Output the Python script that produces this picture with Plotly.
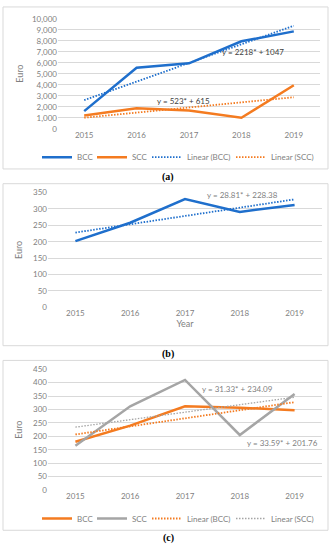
import numpy as np
import plotly.graph_objects as go

W, H = 336, 550
years = ["2015", "2016", "2017", "2018", "2019"]

# Panel (a)
a_bcc = [1600, 5550, 5950, 7950, 8850]
a_scc = [1200, 1850, 1650, 1000, 3950]
a_eq_bcc = "y = 2218* + 1047"
a_eq_scc = "y = 523* + 615"
# Panel (b)
b_vals = [202, 258, 330, 291, 312]
b_eq = "y = 28.81* + 228.38"
# Panel (c)
c_bcc = [180, 240, 312, 307, 297]
c_scc = [165, 312, 410, 205, 358]
c_eq_bcc = "y = 31.33* + 234.09"
c_eq_scc = "y = 33.59* + 201.76"

BLUE = "#1f6fcc"
ORANGE = "#f47b20"
GRAY = "#a5a5a5"
TXT = "#7f7f7f"
GRID = "#d9d9d9"
FONT = "Lato, Open Sans, sans-serif"
DOT = "1.5px,1.5px"


def trend(v):
    x = np.arange(1, len(v) + 1)
    k, b = np.polyfit(x, v, 1)
    return list(k * x + b)


def px(x):
    return x / W


def py(y):
    return 1 - y / H


fig = go.Figure()

# (a)
fig.add_trace(go.Scatter(x=years, y=a_bcc, name="BCC", mode="lines",
                         line=dict(color=BLUE, width=2.5), xaxis="x", yaxis="y", legend="legend"))
fig.add_trace(go.Scatter(x=years, y=a_scc, name="SCC", mode="lines",
                         line=dict(color=ORANGE, width=2.5), xaxis="x", yaxis="y", legend="legend2"))
fig.add_trace(go.Scatter(x=years, y=trend(a_bcc), name="Linear (BCC)", mode="lines",
                         line=dict(color=BLUE, width=1.8, dash=DOT), xaxis="x", yaxis="y", legend="legend3"))
fig.add_trace(go.Scatter(x=years, y=trend(a_scc), name="Linear (SCC)", mode="lines",
                         line=dict(color=ORANGE, width=1.8, dash=DOT), xaxis="x", yaxis="y", legend="legend4"))
# (b)
fig.add_trace(go.Scatter(x=years, y=b_vals, name="b", mode="lines", showlegend=False,
                         line=dict(color=BLUE, width=2.5), xaxis="x2", yaxis="y2"))
fig.add_trace(go.Scatter(x=years, y=trend(b_vals), name="Linear", mode="lines", showlegend=False,
                         line=dict(color=BLUE, width=1.8, dash=DOT), xaxis="x2", yaxis="y2"))
# (c)
fig.add_trace(go.Scatter(x=years, y=c_bcc, name="BCC", mode="lines",
                         line=dict(color=ORANGE, width=2.5), xaxis="x3", yaxis="y3", legend="legend5"))
fig.add_trace(go.Scatter(x=years, y=c_scc, name="SCC", mode="lines",
                         line=dict(color=GRAY, width=2.5), xaxis="x3", yaxis="y3", legend="legend6"))
fig.add_trace(go.Scatter(x=years, y=trend(c_bcc), name="Linear (BCC)", mode="lines",
                         line=dict(color=ORANGE, width=1.8, dash=DOT), xaxis="x3", yaxis="y3", legend="legend7"))
fig.add_trace(go.Scatter(x=years, y=trend(c_scc), name="Linear (SCC)", mode="lines",
                         line=dict(color=GRAY, width=1.3, dash=DOT), xaxis="x3", yaxis="y3", legend="legend8"))

xcommon = dict(type="category", range=[-0.5, 4.5], showgrid=False, zeroline=False,
               showline=False, ticks="", tickfont=dict(size=8, color=TXT, family=FONT), fixedrange=True)
ycommon = dict(showgrid=True, gridcolor=GRID, gridwidth=1, zeroline=False, showline=False,
               ticks="", tickfont=dict(size=8, color=TXT, family=FONT), fixedrange=True)


def leg(line_start, yc):
    return dict(orientation="h", x=px(line_start - 5), y=py(yc), xanchor="left", yanchor="middle",
                font=dict(size=8, color=TXT, family=FONT), bgcolor="rgba(0,0,0,0)",
                itemwidth=30, tracegroupgap=0, borderwidth=0)


fig.update_layout(
    width=W, height=H,
    margin=dict(l=0, r=0, t=0, b=0),
    paper_bgcolor="white", plot_bgcolor="white",
    font=dict(family=FONT, color=TXT, size=8),
    xaxis=dict(xcommon, domain=[px(58), px(320)], anchor="y"),
    yaxis=dict(ycommon, domain=[py(126), py(14)], anchor="x", range=[0, 10000], dtick=1000,
               tickformat=",", title=dict(text="Euro", font=dict(size=9, color=TXT), standoff=6)),
    xaxis2=dict(xcommon, domain=[px(48), px(322)], anchor="y2",
                title=dict(text="Year", font=dict(size=9, color=TXT), standoff=2)),
    yaxis2=dict(ycommon, domain=[py(308), py(191)], anchor="x2", range=[0, 350], dtick=50,
                title=dict(text="Euro", font=dict(size=9, color=TXT), standoff=8)),
    xaxis3=dict(xcommon, domain=[px(48), px(322)], anchor="y3"),
    yaxis3=dict(ycommon, domain=[py(494), py(371)], anchor="x3", range=[0, 450], dtick=50,
                title=dict(text="Euro", font=dict(size=9, color=TXT), standoff=8)),
    legend=leg(42, 155), legend2=leg(97, 155), legend3=leg(152, 155), legend4=leg(236, 155),
    legend5=leg(42, 523), legend6=leg(97, 523), legend7=leg(152, 523), legend8=leg(236, 523),
    showlegend=True,
)

# panel frames
for (y0, y1) in [(2, 167), (182, 347), (362, 535)]:
    fig.add_shape(type="rect", xref="paper", yref="paper",
                  x0=px(3), x1=px(328), y0=py(y1), y1=py(y0),
                  line=dict(color=GRID, width=1), fillcolor="rgba(0,0,0,0)", layer="below")

# captions
for lab, yc in [("(a)", 175), ("(b)", 355), ("(c)", 543)]:
    fig.add_annotation(text="<b>" + lab + "</b>", xref="paper", yref="paper", x=px(168), y=py(yc),
                       xanchor="center", yanchor="middle", showarrow=False,
                       font=dict(family="Liberation Serif, serif", size=10, color="#000"))

# equations
fig.add_annotation(text=a_eq_bcc, xref="x", yref="y", x=3.22, y=6950, showarrow=False,
                   font=dict(size=8, color="#404040", family=FONT))
fig.add_annotation(text=a_eq_scc, xref="x", yref="y", x=1.9, y=2550, showarrow=False,
                   font=dict(size=8, color="#404040", family=FONT))
fig.add_annotation(text=b_eq, xref="x2", yref="y2", x=3.05, y=341, showarrow=False,
                   font=dict(size=8, color=TXT, family=FONT))
fig.add_annotation(text=c_eq_bcc, xref="x3", yref="y3", x=2.95, y=378, showarrow=False,
                   font=dict(size=8, color=TXT, family=FONT))
fig.add_annotation(text=c_eq_scc, xref="x3", yref="y3", x=3.78, y=176, showarrow=False,
                   font=dict(size=8, color=TXT, family=FONT))

fig.write_html("out.html", config={"displayModeBar": False},
               post_script="document.body.style.margin='0';document.body.style.overflow='hidden';")
